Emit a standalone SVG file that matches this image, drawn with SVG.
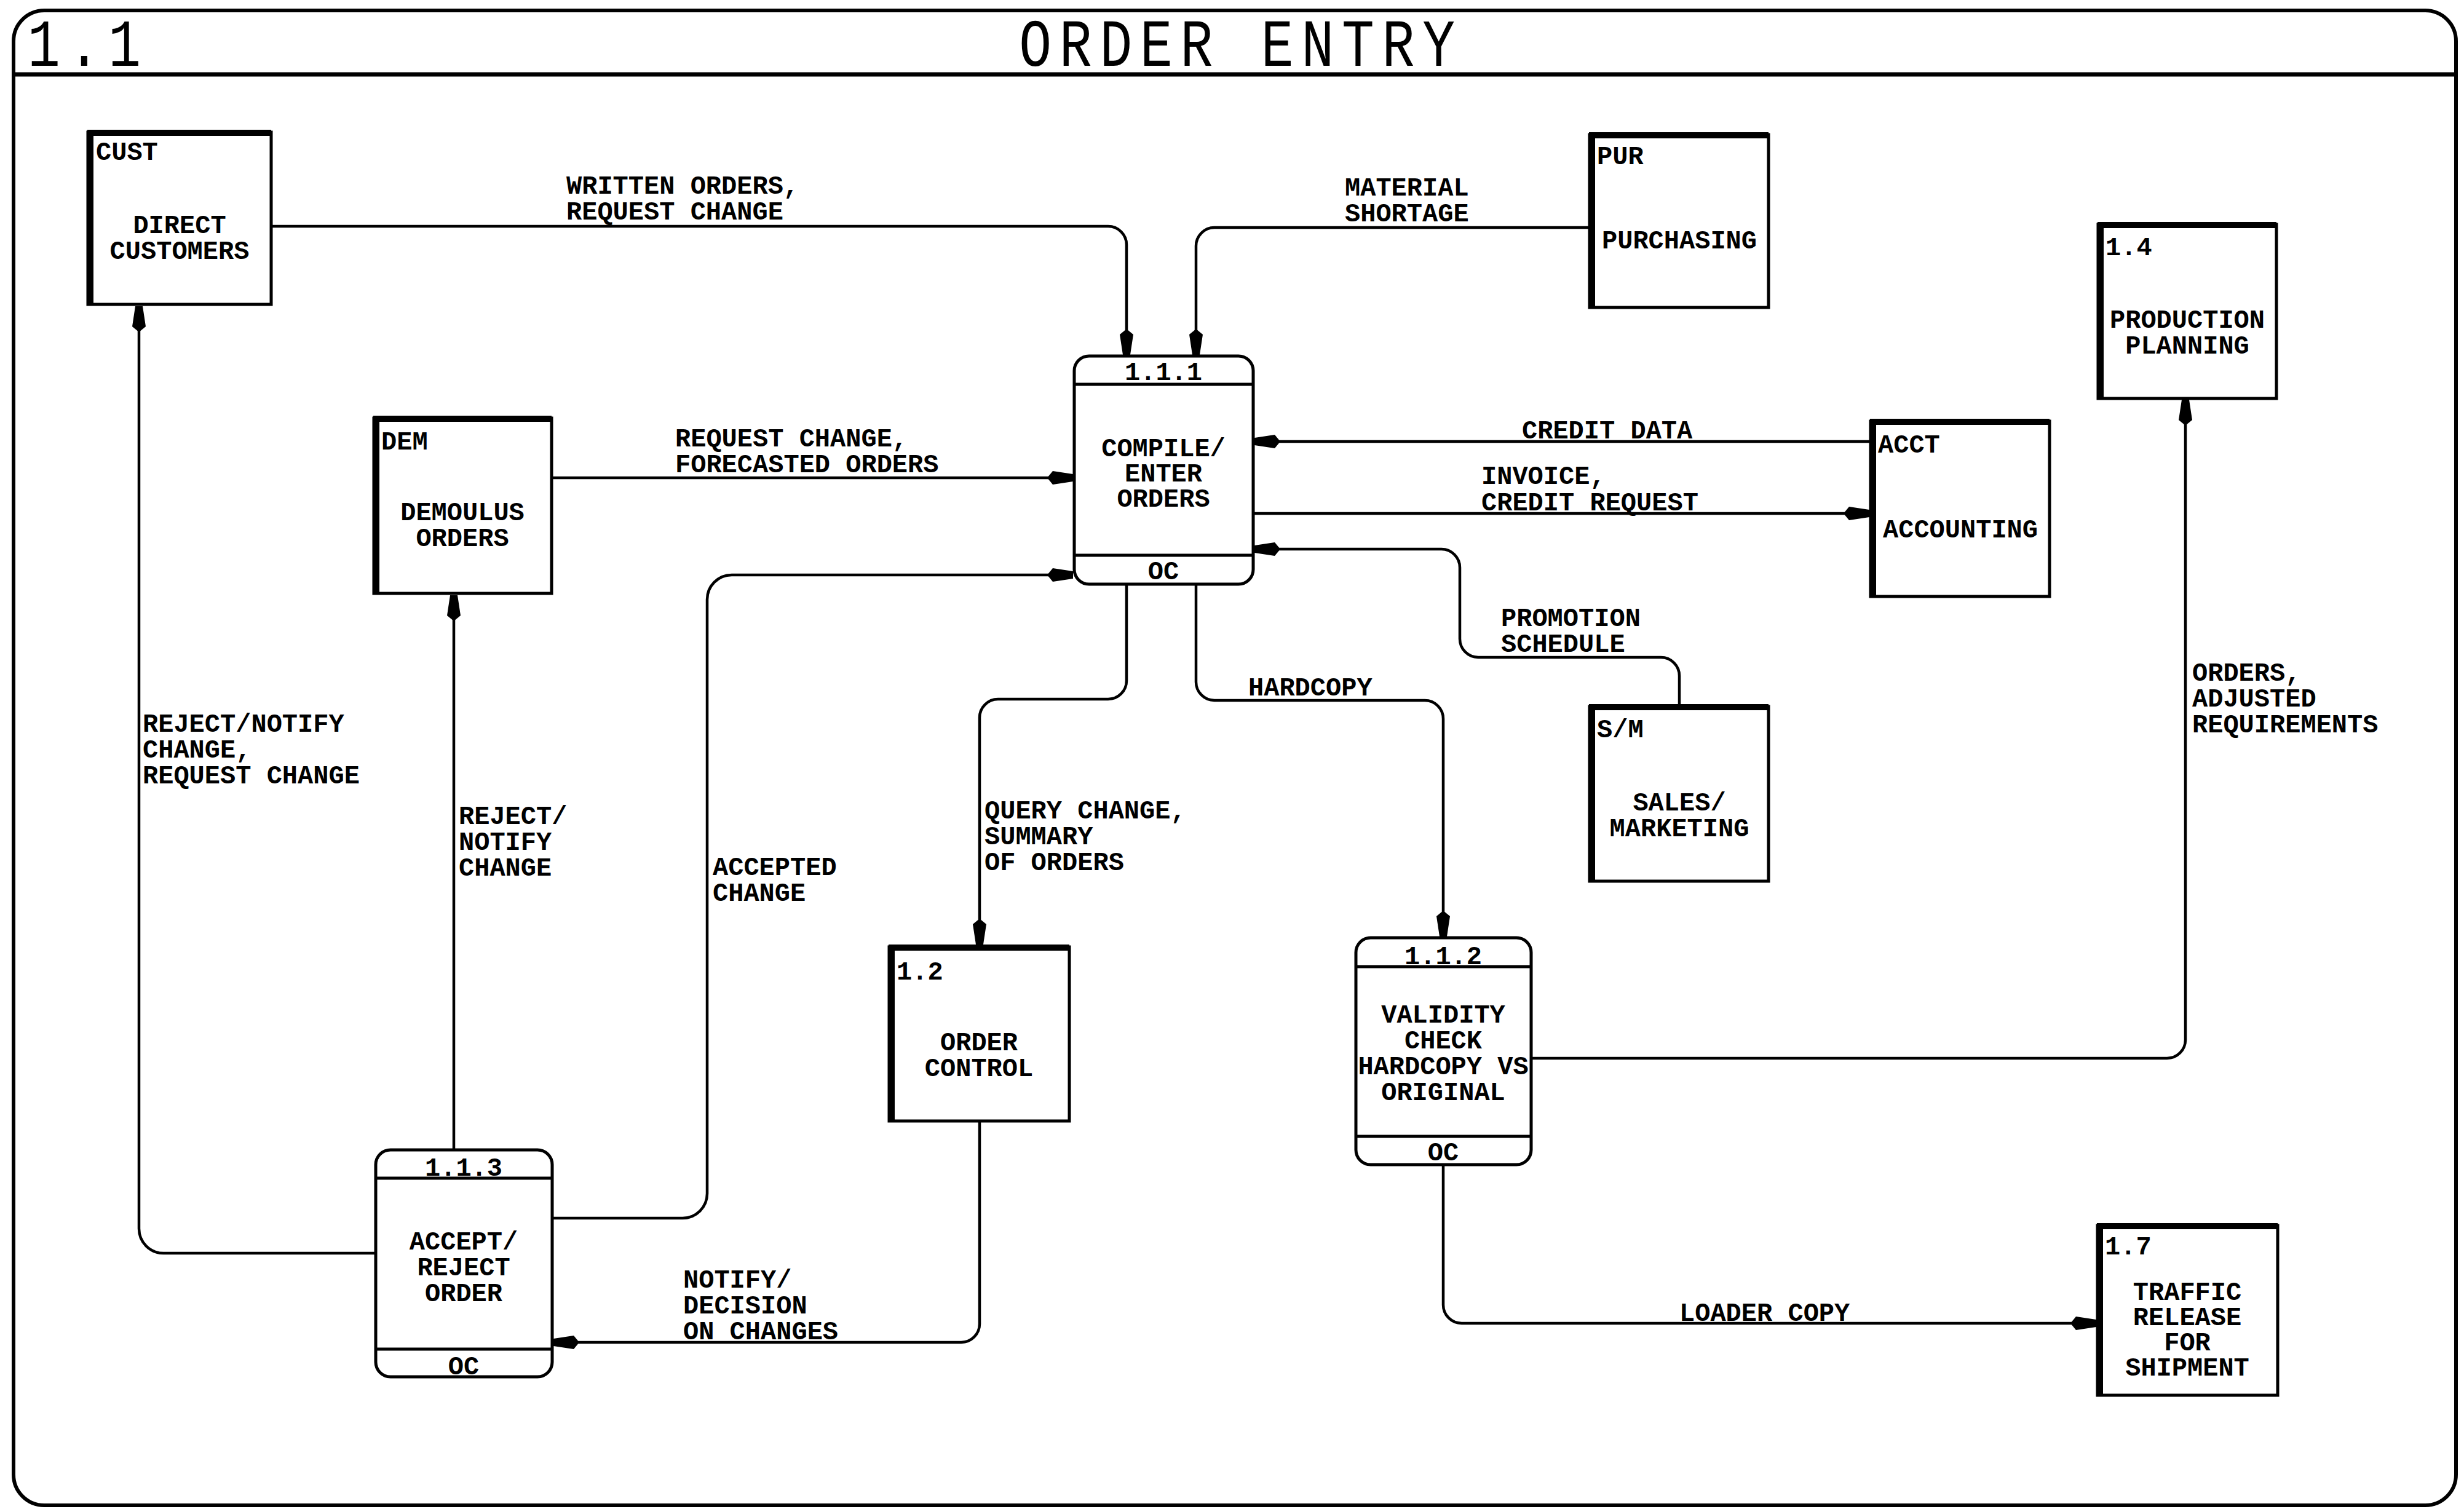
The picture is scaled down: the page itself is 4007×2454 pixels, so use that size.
<svg xmlns="http://www.w3.org/2000/svg" width="4007" height="2454" viewBox="0 0 4007 2454">
<defs>
<style>
.frame{fill:none;stroke:#000;stroke-width:6}
.ent rect{fill:#fff;stroke:#000;stroke-width:5}
.ent path{fill:none;stroke:#000;stroke-width:10}
.proc rect{fill:#fff;stroke:#000;stroke-width:5}
.proc line{stroke:#000;stroke-width:5}
.conn path{fill:none;stroke:#000;stroke-width:4.5;marker-end:url(#ah)}
text{font-family:"Liberation Mono","DejaVu Sans Mono",monospace;font-weight:bold;font-size:42px;fill:#000}
.c{text-anchor:middle}
.title{font-weight:normal;font-size:110px}
</style>
<marker id="ah" markerUnits="userSpaceOnUse" viewBox="0 0 42 22" markerWidth="42" markerHeight="22" refX="42" refY="11" orient="auto">
<path d="M0,11 L9,0 L42,5 L42,17 L9,22 Z" fill="#000"/>
</marker>
</defs>
<rect width="4007" height="2454" fill="#fff"/>

<g id="frame">
<rect class="frame" x="22" y="17" width="3972" height="2431" rx="50"/>
<line x1="22" y1="121" x2="3994" y2="121" stroke="#000" stroke-width="7"/>
<text class="title" transform="translate(45,107) scale(0.8,1)" letter-spacing="16">1.1</text>
<text class="title c" transform="translate(2018,107) scale(0.8,1)" letter-spacing="16">ORDER ENTRY</text>
</g>

<g id="connectors" class="conn">
<path d="M441,368 H1802 A30,30 0 0 1 1832,398 V577"/>
<path d="M2585,370 H1975 A30,30 0 0 0 1945,400 V577"/>
<path d="M897,777 H1745"/>
<path d="M898,1981 H1110 A40,40 0 0 0 1150,1941 V975 A40,40 0 0 1 1190,935 H1745"/>
<path d="M738,1870 V968"/>
<path d="M611,2038 H266 A40,40 0 0 1 226,1998 V498"/>
<path d="M1832,950 V1107 A30,30 0 0 1 1802,1137 H1623 A30,30 0 0 0 1593,1167 V1536"/>
<path d="M1945,950 V1109 A30,30 0 0 0 1975,1139 H2317 A30,30 0 0 1 2347,1169 V1523"/>
<path d="M1593,1823 V2153 A30,30 0 0 1 1563,2183 H900"/>
<path d="M3042,718 H2040"/>
<path d="M2038,835 H3040"/>
<path d="M2731,1149 V1099 A30,30 0 0 0 2701,1069 H2404 A30,30 0 0 1 2374,1039 V923 A30,30 0 0 0 2344,893 H2040"/>
<path d="M2490,1721 H3524 A30,30 0 0 0 3554,1691 V650"/>
<path d="M2347,1894 V2122 A30,30 0 0 0 2377,2152 H3409"/>
</g>

<g id="connector-labels">
<text x="921" y="315">WRITTEN ORDERS,</text>
<text x="921" y="357">REQUEST CHANGE</text>
<text x="2187" y="318">MATERIAL</text>
<text x="2187" y="360">SHORTAGE</text>
<text x="1098" y="726">REQUEST CHANGE,</text>
<text x="1098" y="768">FORECASTED ORDERS</text>
<text x="1159" y="1423">ACCEPTED</text>
<text x="1159" y="1465">CHANGE</text>
<text x="746" y="1340">REJECT/</text>
<text x="746" y="1382">NOTIFY</text>
<text x="746" y="1424">CHANGE</text>
<text x="232" y="1190">REJECT/NOTIFY</text>
<text x="232" y="1232">CHANGE,</text>
<text x="232" y="1274">REQUEST CHANGE</text>
<text x="1601" y="1331">QUERY CHANGE,</text>
<text x="1601" y="1373">SUMMARY</text>
<text x="1601" y="1415">OF ORDERS</text>
<text x="2030" y="1131">HARDCOPY</text>
<text x="1111" y="2094">NOTIFY/</text>
<text x="1111" y="2136">DECISION</text>
<text x="1111" y="2178">ON CHANGES</text>
<text x="2475" y="713">CREDIT DATA</text>
<text x="2409" y="787">INVOICE,</text>
<text x="2409" y="830">CREDIT REQUEST</text>
<text x="2441" y="1018">PROMOTION</text>
<text x="2441" y="1060">SCHEDULE</text>
<text x="3565" y="1107">ORDERS,</text>
<text x="3565" y="1149">ADJUSTED</text>
<text x="3565" y="1191">REQUIREMENTS</text>
<text x="2731" y="2148">LOADER COPY</text>
</g>

<g id="cust" class="ent">
<rect x="143" y="215" width="298" height="280"/>
<path d="M147,495 V216 H441"/>
<text x="156" y="260">CUST</text>
<text class="c" x="292" y="379">DIRECT</text>
<text class="c" x="292" y="421">CUSTOMERS</text>
</g>

<g id="dem" class="ent">
<rect x="608" y="680" width="289" height="285"/>
<path d="M612,965 V681 H897"/>
<text x="620" y="731">DEM</text>
<text class="c" x="752" y="846">DEMOULUS</text>
<text class="c" x="752" y="888">ORDERS</text>
</g>

<g id="pur" class="ent">
<rect x="2585" y="219" width="291" height="281"/>
<path d="M2589,500 V220 H2876"/>
<text x="2597" y="267">PUR</text>
<text class="c" x="2731" y="404">PURCHASING</text>
</g>

<g id="prodplan" class="ent">
<rect x="3412" y="365" width="290" height="283"/>
<path d="M3416,648 V366 H3702"/>
<text x="3424" y="415">1.4</text>
<text class="c" x="3557" y="533">PRODUCTION</text>
<text class="c" x="3557" y="575">PLANNING</text>
</g>

<g id="acct" class="ent">
<rect x="3042" y="685" width="291" height="285"/>
<path d="M3046,970 V686 H3333"/>
<text x="3054" y="736">ACCT</text>
<text class="c" x="3188" y="874">ACCOUNTING</text>
</g>

<g id="salesmkt" class="ent">
<rect x="2585" y="1149" width="291" height="284"/>
<path d="M2589,1433 V1150 H2876"/>
<text x="2597" y="1199">S/M</text>
<text class="c" x="2731" y="1318">SALES/</text>
<text class="c" x="2731" y="1360">MARKETING</text>
</g>

<g id="ordercontrol" class="ent">
<rect x="1446" y="1540" width="293" height="283"/>
<path d="M1450,1823 V1541 H1739"/>
<text x="1458" y="1593">1.2</text>
<text class="c" x="1592" y="1708">ORDER</text>
<text class="c" x="1592" y="1750">CONTROL</text>
</g>

<g id="traffic" class="ent">
<rect x="3411" y="1993" width="293" height="276"/>
<path d="M3415,2269 V1994 H3704"/>
<text x="3423" y="2040">1.7</text>
<text class="c" x="3557" y="2114">TRAFFIC</text>
<text class="c" x="3557" y="2155">RELEASE</text>
<text class="c" x="3557" y="2196">FOR</text>
<text class="c" x="3557" y="2237">SHIPMENT</text>
</g>

<g id="p111" class="proc">
<rect x="1747" y="579" width="291" height="371" rx="24"/>
<line x1="1747" y1="625" x2="2038" y2="625"/>
<line x1="1747" y1="903" x2="2038" y2="903"/>
<text class="c" x="1892" y="618">1.1.1</text>
<text class="c" x="1892" y="742">COMPILE/</text>
<text class="c" x="1892" y="783">ENTER</text>
<text class="c" x="1892" y="824">ORDERS</text>
<text class="c" x="1892" y="942">OC</text>
</g>

<g id="p113" class="proc">
<rect x="611" y="1870" width="287" height="369" rx="24"/>
<line x1="611" y1="1916" x2="898" y2="1916"/>
<line x1="611" y1="2194" x2="898" y2="2194"/>
<text class="c" x="754" y="1912">1.1.3</text>
<text class="c" x="754" y="2032">ACCEPT/</text>
<text class="c" x="754" y="2074">REJECT</text>
<text class="c" x="754" y="2116">ORDER</text>
<text class="c" x="754" y="2235">OC</text>
</g>

<g id="p112" class="proc">
<rect x="2205" y="1525" width="285" height="369" rx="24"/>
<line x1="2205" y1="1572" x2="2490" y2="1572"/>
<line x1="2205" y1="1848" x2="2490" y2="1848"/>
<text class="c" x="2347" y="1568">1.1.2</text>
<text class="c" x="2347" y="1663">VALIDITY</text>
<text class="c" x="2347" y="1705">CHECK</text>
<text class="c" x="2347" y="1747">HARDCOPY VS</text>
<text class="c" x="2347" y="1789">ORIGINAL</text>
<text class="c" x="2347" y="1887">OC</text>
</g>
</svg>
